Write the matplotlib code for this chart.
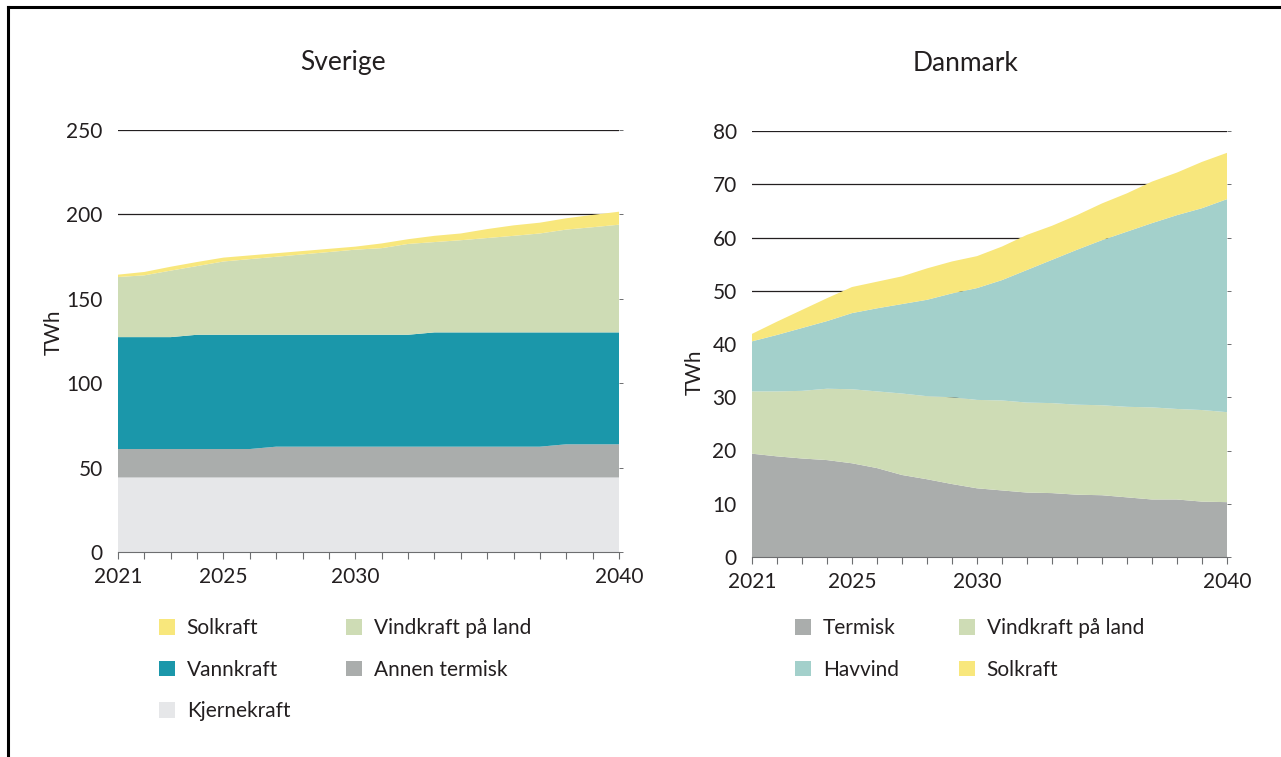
import matplotlib
matplotlib.use("Agg")
import matplotlib.pyplot as plt
import matplotlib.patches as patches
from matplotlib.lines import Line2D

plt.rcParams['font.family'] = ['Lato', 'DejaVu Sans']

years = list(range(2021, 2041))
year_labels = {2021: '2021', 2025: '2025', 2030: '2030', 2040: '2040'}

# Sverige (TWh)
se_kjerne = [44.2] * 20
se_annen = [16.8] * 6 + [18.2] * 11 + [19.6] * 3
se_vann = [66.3, 66.3, 66.3, 67.7, 67.7, 67.7, 66.3, 66.3, 66.3, 66.3,
           66.3, 66.3, 67.7, 67.7, 67.7, 67.7, 67.7, 66.3, 66.3, 66.3]
se_vind = [35.6, 36.6, 39.4, 40.7, 43.4, 44.8, 46.2, 47.6, 49.0, 50.4,
           51.3, 53.8, 53.5, 54.6, 55.9, 57.2, 58.6, 60.9, 62.3, 63.8]
se_sol = [1.4, 2.0, 2.3, 2.4, 2.3, 2.2, 2.1, 2.0, 1.9, 1.8,
          2.8, 2.8, 3.7, 4.0, 5.3, 6.2, 6.4, 6.7, 7.3, 7.7]

# Danmark (TWh)
dk_termisk = [19.4, 18.9, 18.5, 18.2, 17.6, 16.7, 15.4, 14.6, 13.7, 12.9,
              12.5, 12.1, 12.0, 11.7, 11.6, 11.2, 10.8, 10.8, 10.4, 10.3]
dk_vind = [11.7, 12.2, 12.7, 13.4, 13.9, 14.4, 15.3, 15.6, 16.3, 16.6,
           16.9, 16.9, 16.9, 16.9, 16.9, 17.0, 17.3, 17.0, 17.2, 16.9]
dk_hav = [9.4, 10.6, 11.8, 12.7, 14.3, 15.6, 16.8, 18.1, 19.5, 21.0,
          22.6, 24.9, 26.9, 29.1, 31.0, 32.9, 34.6, 36.4, 37.9, 40.0]
dk_sol = [1.4, 2.5, 3.4, 4.3, 4.9, 5.0, 5.2, 5.9, 6.0, 6.0,
          6.3, 6.6, 6.4, 6.5, 6.9, 7.2, 7.8, 8.0, 8.7, 8.7]

colors = {
    'sol': '#f8e77c',
    'vind': '#cedcb5',
    'vann': '#1b97aa',
    'annen': '#aaadac',
    'kjerne': '#e6e7e9',
    'hav': '#a3d0cb',
}
text_color = '#231f20'

fig = plt.figure(figsize=(12.81, 7.57), dpi=100)

# ramme (topp og venstre)
fig.add_artist(Line2D([8 / 1281, 1.0], [1 - 7 / 757, 1 - 7 / 757], color='black', lw=2.2))
fig.add_artist(Line2D([8 / 1281, 8 / 1281], [0, 1 - 7 / 757], color='black', lw=2.2))

ax1 = fig.add_axes([118 / 1281, 205 / 757, 501 / 1281, 422 / 757])
ax2 = fig.add_axes([752 / 1281, 200 / 757, 475 / 1281, 426 / 757])


def style_axis(ax, ymax, ystep, title, ylab_pos):
    ax.set_xlim(2021, 2040)
    ax.set_ylim(0, ymax)
    ax.set_yticks(range(0, ymax + 1, ystep))
    ax.set_xticks(years)
    ax.set_xticklabels([year_labels.get(y, '') for y in years])
    for s in ['top', 'left', 'right']:
        ax.spines[s].set_visible(False)
    ax.spines['bottom'].set_color('#6d6e70')
    ax.spines['bottom'].set_linewidth(0.8)
    ax.tick_params(axis='x', length=5, width=0.8, color='#6d6e70',
                   labelsize=15, labelcolor=text_color, pad=6)
    ax.tick_params(axis='y', left=False, right=True, length=3, width=0.7,
                   color='#6d6e70', labelsize=15, labelcolor=text_color, pad=8)
    for yv in range(ystep, ymax + 1, ystep):
        ax.axhline(yv, color='#231f20', lw=0.9, zorder=0)
    ax.set_title(title, fontsize=19, color=text_color, x=0.45, pad=43)
    ax.set_ylabel('TWh', fontsize=15, color=text_color)
    ax.yaxis.set_label_coords(*ylab_pos)


# Sverige
ax1.stackplot(years, se_kjerne, se_annen, se_vann, se_vind, se_sol,
              colors=[colors['kjerne'], colors['annen'], colors['vann'],
                      colors['vind'], colors['sol']], lw=0, zorder=2)
style_axis(ax1, 250, 50, 'Sverige', (-0.108, 0.52))

# Danmark
ax2.stackplot(years, dk_termisk, dk_vind, dk_hav, dk_sol,
              colors=[colors['annen'], colors['vind'], colors['hav'], colors['sol']],
              lw=0, zorder=2)
style_axis(ax2, 80, 10, 'Danmark', (-0.10, 0.434))


def add_legend(items, x_px, y_px):
    handles = [patches.Patch(facecolor=colors[k], edgecolor='none', label=l) for k, l in items]
    fig.legend(handles=handles, loc='upper left',
               bbox_to_anchor=(x_px / 1281, 1 - y_px / 757),
               bbox_transform=fig.transFigure, frameon=False,
               fontsize=15, handlelength=0.78, handleheight=0.78,
               handletextpad=0.55, labelspacing=1.04, borderpad=0,
               borderaxespad=0, labelcolor=text_color)


add_legend([('sol', 'Solkraft'), ('vann', 'Vannkraft'), ('kjerne', 'Kjernekraft')], 159, 618)
add_legend([('vind', 'Vindkraft på land'), ('annen', 'Annen termisk')], 346, 618)
add_legend([('annen', 'Termisk'), ('hav', 'Havvind')], 795, 618)
add_legend([('vind', 'Vindkraft på land'), ('sol', 'Solkraft')], 959, 618)

fig.savefig('out.png', dpi=100)
